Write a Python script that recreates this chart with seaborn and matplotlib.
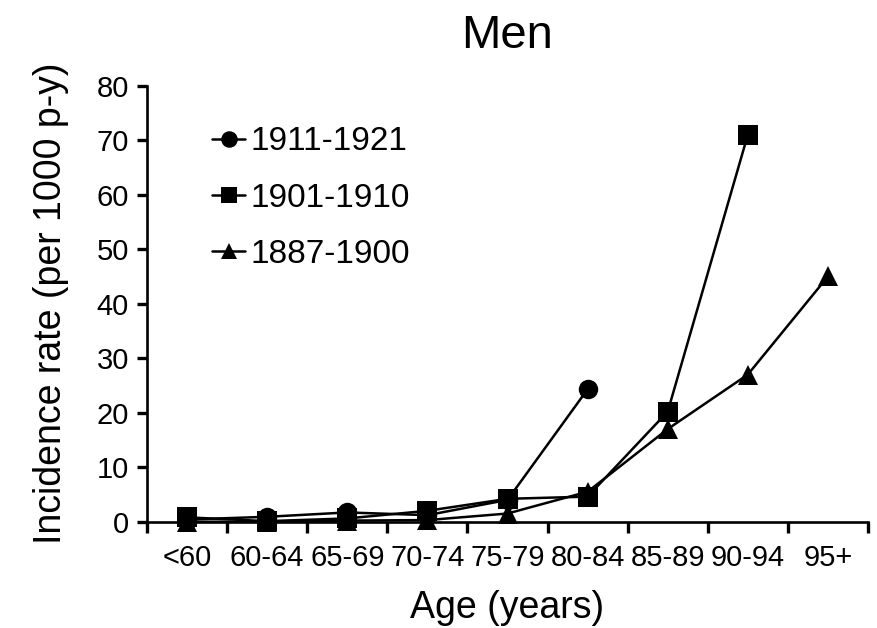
import matplotlib
matplotlib.use("Agg")
import matplotlib.pyplot as plt
import seaborn as sns
import numpy as np
import pandas as pd

age_groups = ["<60", "60-64", "65-69", "70-74", "75-79", "80-84", "85-89", "90-94", "95+"]
cohorts = ["1911-1921", "1901-1910", "1887-1900"]
rate_1911_1921 = [0.4, 0.9, 1.7, 1.2, 4.0, 24.3, np.nan, np.nan, np.nan]
rate_1901_1910 = [0.8, 0.1, 0.6, 2.0, 4.2, 4.6, 20.2, 71.0, np.nan]
rate_1887_1900 = [0.0, 0.0, 0.2, 0.3, 1.5, 5.5, 17.0, 27.0, 45.0]
y_ticks = [0, 10, 20, 30, 40, 50, 60, 70, 80]

rows = []
for name, vals in zip(cohorts, [rate_1911_1921, rate_1901_1910, rate_1887_1900]):
    for i, v in enumerate(vals):
        rows.append({"pos": i, "rate": v, "cohort": name})
df = pd.DataFrame(rows).dropna()

sns.set_style("ticks")
plt.rcParams["font.family"] = ["Liberation Sans", "DejaVu Sans"]
plt.rcParams.update({"text.color": "black", "axes.labelcolor": "black",
                     "xtick.color": "black", "ytick.color": "black"})

fig = plt.figure(figsize=(8.77, 6.28), dpi=100)
ax = fig.add_axes([147 / 877, 1 - 521.7 / 628, (868 - 147) / 877, (521.7 - 85.7) / 628])

sns.lineplot(data=df, x="pos", y="rate", hue="cohort", style="cohort",
             hue_order=cohorts, style_order=cohorts,
             palette=["black"] * 3,
             markers={"1911-1921": "o", "1901-1910": "s", "1887-1900": "^"},
             dashes=False, markersize=14, markeredgewidth=0, linewidth=1.8,
             clip_on=False, zorder=5, ax=ax, legend=True)

ax.set_xlim(-0.5, len(age_groups) - 0.5)
ax.set_ylim(0, 80)
ax.set_yticks(y_ticks)
ax.set_yticklabels([str(t) for t in y_ticks], fontsize=21)

# ticks at category boundaries, labels at centers
ax.set_xticks(np.arange(-0.5, len(age_groups), 1.0))
ax.set_xticklabels([])
ax.set_xticks(np.arange(len(age_groups)), minor=True)
ax.set_xticklabels(age_groups, minor=True, fontsize=21)
ax.tick_params(axis="x", which="major", length=8, width=2.4, direction="out", color="black")
ax.tick_params(axis="x", which="minor", length=0, pad=16, labelcolor="black")
ax.tick_params(axis="y", which="major", length=7, width=2.4, pad=6, direction="out",
               color="black", labelcolor="black")

for s in ["top", "right"]:
    ax.spines[s].set_visible(False)
for s in ["left", "bottom"]:
    ax.spines[s].set_linewidth(1.9)
    ax.spines[s].set_color("black")

ax.set_xlabel("Age (years)", fontsize=27, labelpad=13, color="black")
ax.set_ylabel("Incidence rate (per 1000 p-y)", fontsize=27, labelpad=20, color="black")
ax.set_title("Men", fontsize=34, pad=27, color="black")

leg = ax.legend(loc="upper left", bbox_to_anchor=(0.067, 0.945), frameon=False,
                fontsize=24, handlelength=1.0, handletextpad=0.15,
                labelspacing=0.76, borderpad=0, markerscale=0.85)
for h in leg.legend_handles:
    h.set_color("black")
for t in leg.get_texts():
    t.set_color("black")

fig.savefig("out.png", dpi=100)
